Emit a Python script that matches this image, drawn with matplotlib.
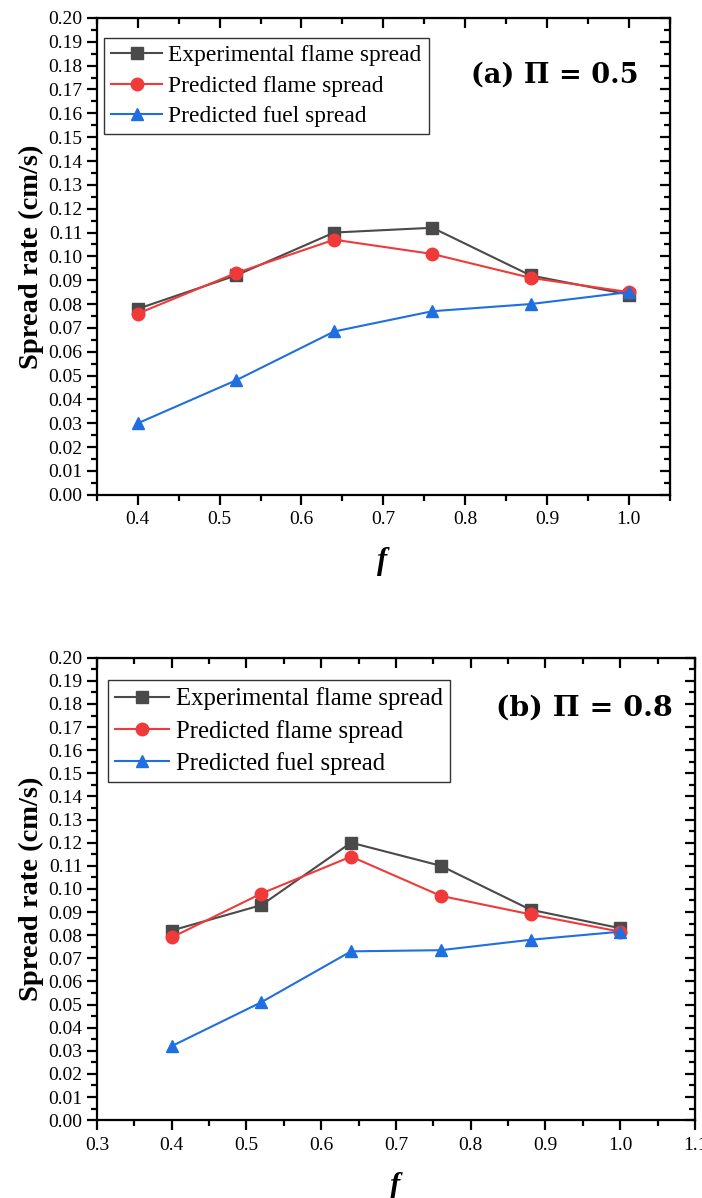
import numpy as np
import matplotlib
matplotlib.use("Agg")
import matplotlib.pyplot as plt
from matplotlib.ticker import MultipleLocator, FormatStrFormatter

plt.rcParams['font.family'] = ['Liberation Serif', 'DejaVu Serif']
plt.rcParams['mathtext.fontset'] = 'custom'
plt.rcParams['mathtext.it'] = 'Liberation Serif:italic:bold'

# -----------------------------
# Data
# -----------------------------
f_values = [0.4, 0.52, 0.64, 0.76, 0.88, 1.0]

# (a) Pi = 0.5
exp_flame_a = [0.078, 0.092, 0.110, 0.112, 0.092, 0.084]
pred_flame_a = [0.076, 0.093, 0.107, 0.101, 0.091, 0.085]
pred_fuel_a = [0.030, 0.048, 0.0685, 0.077, 0.080, 0.085]

# (b) Pi = 0.8
exp_flame_b = [0.082, 0.093, 0.120, 0.110, 0.091, 0.083]
pred_flame_b = [0.079, 0.098, 0.114, 0.097, 0.089, 0.0815]
pred_fuel_b = [0.032, 0.051, 0.073, 0.0735, 0.078, 0.0815]

labels = ["Experimental flame spread", "Predicted flame spread", "Predicted fuel spread"]
colors = ["#4a4a4a", "#f03a3a", "#1f6fe0"]
markers = ["s", "o", "^"]


# -----------------------------
# Panel drawing
# -----------------------------
def draw_panel(ax, series, title, xlim, xticks, leg_pos, leg_size, title_pos, title_size):
    for y, lab, col, mk in zip(series, labels, colors, markers):
        ax.plot(f_values, y, color=col, marker=mk, markersize=9,
                linewidth=1.5, label=lab)

    ax.set_xlim(*xlim)
    ax.set_ylim(0, 0.20)
    ax.set_xticks(xticks)
    ax.xaxis.set_major_formatter(FormatStrFormatter('%.1f'))
    ax.xaxis.set_minor_locator(MultipleLocator(0.05))
    ax.yaxis.set_major_locator(MultipleLocator(0.01))
    ax.yaxis.set_minor_locator(MultipleLocator(0.005))
    ax.yaxis.set_major_formatter(FormatStrFormatter('%.2f'))

    for side in ax.spines.values():
        side.set_linewidth(1.6)

    ax.tick_params(which='both', direction='out', top=False, right=False,
                   labelsize=14, width=1.6)
    ax.tick_params(which='major', length=7)
    ax.tick_params(which='minor', length=4)
    ax.tick_params(axis='x', pad=5)

    # inward ticks on top and right
    sec_x = ax.secondary_xaxis('top')
    sec_x.set_xticks(xticks)
    sec_x.xaxis.set_minor_locator(MultipleLocator(0.05))
    sec_x.tick_params(which='both', direction='in', labeltop=False, width=1.6)
    sec_x.tick_params(which='major', length=7)
    sec_x.tick_params(which='minor', length=4)
    sec_y = ax.secondary_yaxis('right')
    sec_y.yaxis.set_major_locator(MultipleLocator(0.01))
    sec_y.yaxis.set_minor_locator(MultipleLocator(0.005))
    sec_y.tick_params(which='both', direction='in', labelright=False, width=1.6)
    sec_y.tick_params(which='major', length=7)
    sec_y.tick_params(which='minor', length=4)

    ax.set_ylabel("Spread rate (cm/s)", fontsize=20.5, fontweight='bold', labelpad=3)
    ax.set_xlabel(r"$\mathit{f}$", fontsize=22, labelpad=12)

    leg = ax.legend(loc='upper left', bbox_to_anchor=leg_pos, fontsize=leg_size,
                    frameon=True, fancybox=False, handlelength=2.2,
                    handletextpad=0.25, borderpad=0.3, labelspacing=0.38,
                    borderaxespad=0)
    leg.get_frame().set_edgecolor('black')
    leg.get_frame().set_linewidth(1.0)

    ax.text(title_pos[0], title_pos[1], title, transform=ax.transAxes,
            ha='right', va='center', fontsize=title_size, fontweight='bold',
            family='DejaVu Serif')


fig = plt.figure(figsize=(7.02, 11.98), dpi=100)
ax1 = fig.add_axes([0.138, 0.587, 0.816, 0.398])
ax2 = fig.add_axes([0.138, 0.065, 0.852, 0.386])

draw_panel(ax1, [exp_flame_a, pred_flame_a, pred_fuel_a], "(a) \u03a0 = 0.5",
           (0.35, 1.05), [0.4, 0.5, 0.6, 0.7, 0.8, 0.9, 1.0],
           (0.012, 0.958), 16.9, (0.946, 0.88), 19.5)
draw_panel(ax2, [exp_flame_b, pred_flame_b, pred_fuel_b], "(b) \u03a0 = 0.8",
           (0.3, 1.1), [0.3, 0.4, 0.5, 0.6, 0.7, 0.8, 0.9, 1.0, 1.1],
           (0.018, 0.952), 17.8, (0.963, 0.892), 20.5)

fig.savefig("out.png", dpi=100)
